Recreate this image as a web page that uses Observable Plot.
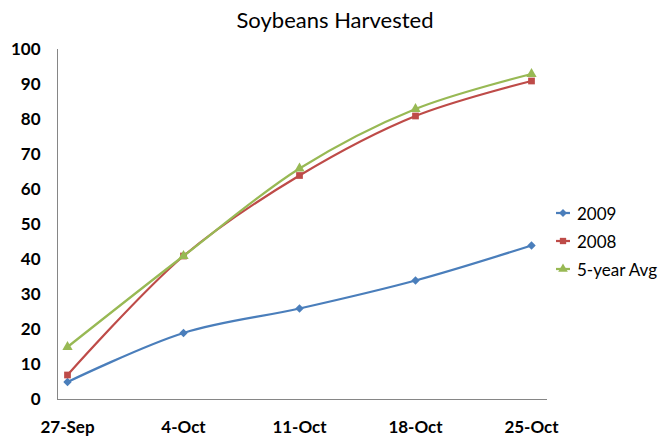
<!DOCTYPE html>
<html><head><meta charset="utf-8">
<script src="https://cdn.jsdelivr.net/npm/d3@7"></script>
<script src="https://cdn.jsdelivr.net/npm/@observablehq/plot@0.6"></script>
<style>
body{margin:0;background:#fff;font-family:Lato,"Open Sans",sans-serif;}
#wrap{position:relative;width:664px;height:436px;overflow:hidden;background:#fff}
#title{height:36px;line-height:40px;text-align:center;font-size:22px;color:#000;padding-left:6px}
#legend{position:absolute;left:555px;top:199px;font-size:17px;color:#000}
.row{height:28px;display:flex;align-items:center}
.row svg{margin-right:6px}
</style></head>
<body><div id="wrap"><div id="title">Soybeans Harvested</div><div id="chart"></div><div id="legend"></div></div>
<script>
const dates = ["27-Sep","4-Oct","11-Oct","18-Oct","25-Oct"];
const s2009 = [5,19,26,34,44];
const s2008 = [7,41,64,81,91];
const sAvg = [15,41,66,83,93];
const seriesNames = ["2009","2008","5-year Avg"];
const seriesValues = [s2009, s2008, sAvg];
const colors = ["#4A7EBB","#BE4B48","#98B954"];
const symbols = ["diamond2","square","triangle"];
const yTicks = [0,10,20,30,40,50,60,70,80,90,100];

const rows = [];
seriesNames.forEach((name,i)=>seriesValues[i].forEach((v,j)=>rows.push({series:name,date:dates[j],value:v})));

const marks = [
  Plot.frame({anchor:"left", stroke:"#868686"}),
  Plot.ruleY([0], {stroke:"#868686"}),
  Plot.axisY({ticks:yTicks, tickSize:0, tickPadding:17, fontSize:17, fontWeight:"bold"}),
  Plot.axisX({tickSize:0, tickPadding:21, fontSize:17, fontWeight:"bold"})
];
seriesNames.forEach((name,i)=>{
  const d = rows.filter(r=>r.series===name);
  marks.push(Plot.line(d,{x:"date",y:"value",stroke:colors[i],strokeWidth:2.25,curve:"catmull-rom"}));
  marks.push(Plot.dot(d,{x:"date",y:"value",fill:colors[i],symbol:symbols[i],r:3.8,stroke:"none"}));
});

const chart = Plot.plot({
  width:664, height:400,
  marginLeft:57, marginRight:117, marginTop:13, marginBottom:37,
  style:{fontFamily:"Lato, 'Open Sans', sans-serif", color:"#000", background:"#fff"},
  x:{type:"point", domain:dates, range:[65,532], padding:0, label:null},
  y:{domain:[0,100], label:null},
  marks
});
document.getElementById("chart").appendChild(chart);

const leg = d3.select("#legend");
const symMap = {diamond2:d3.symbolDiamond2, square:d3.symbolSquare, triangle:d3.symbolTriangle};
seriesNames.forEach((name,i)=>{
  const row = leg.append("div").attr("class","row");
  const s = row.append("svg").attr("width",16).attr("height",12);
  s.append("line").attr("x1",1).attr("x2",15).attr("y1",6).attr("y2",6).attr("stroke",colors[i]).attr("stroke-width",2.25);
  s.append("path").attr("transform","translate(8,6)").attr("d",d3.symbol(symMap[symbols[i]], 40)()).attr("fill",colors[i]);
  row.append("span").text(name);
});
</script></body></html>
